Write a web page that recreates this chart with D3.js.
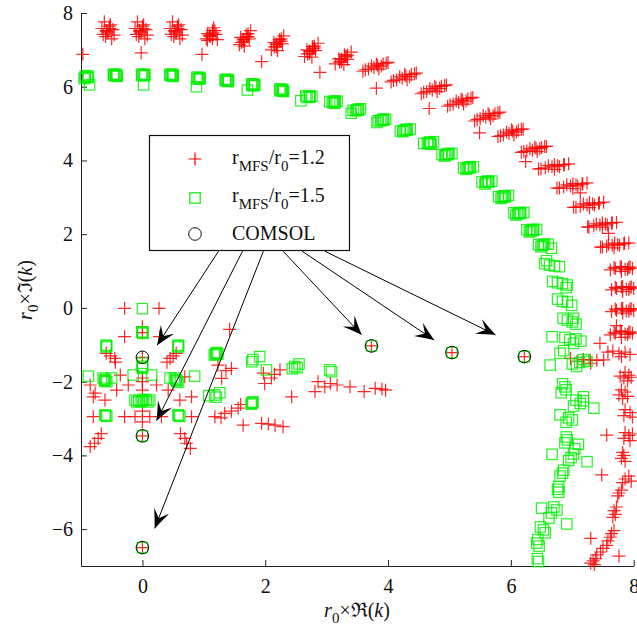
<!DOCTYPE html>
<html>
<head>
<meta charset="utf-8">
<script src="https://cdn.jsdelivr.net/npm/d3@7"></script>
<style>
  body { margin: 0; background: #fff; }
  text { font-family: "Liberation Serif", "Times New Roman", "DejaVu Serif", serif; fill: #111; }
</style>
</head>
<body>
<script>
//tick values
const xTicks = [0, 2, 4, 6, 8]
const yTicks = [-6, -4, -2, 0, 2, 4, 6, 8]

//legend labels
const legendLabels = ['1.2', '1.5', 'COMSOL']

//r_MFS/r0 = 1.2, outer arc (cluster by cluster)
const mfs12Arc = [
  [-0.62,7.76],[-0.52,7.68],[-0.66,7.58],[-0.48,7.55],[-0.56,7.46],[-0.60,7.36],[-0.50,7.30],
  [-0.54,7.64],[-0.58,7.50],[-0.64,7.42],[-0.46,7.40],[-0.53,7.58],[-0.59,7.52],
  [-0.08,7.76],[0.02,7.68],[-0.12,7.58],[0.06,7.55],[-0.02,7.46],[-0.06,7.36],[0.04,7.30],
  [0.00,7.64],[-0.04,7.50],[-0.10,7.42],[0.08,7.40],[0.01,7.58],[-0.05,7.52],
  [0.49,7.76],[0.59,7.68],[0.45,7.58],[0.63,7.55],[0.55,7.46],[0.51,7.36],[0.61,7.30],
  [0.57,7.64],[0.53,7.50],[0.47,7.42],[0.65,7.40],[0.58,7.58],[0.52,7.52],
  [1.16,7.60],[1.18,7.52],[1.06,7.44],[1.20,7.42],[1.10,7.36],[1.06,7.26],[1.14,7.30],
  [1.14,7.52],[1.10,7.38],[1.04,7.30],[1.22,7.28],[1.15,7.46],[1.09,7.40],
  [1.76,7.52],[1.72,7.44],[1.60,7.34],[1.74,7.30],[1.64,7.22],[1.58,7.14],[1.66,7.10],
  [1.69,7.41],[1.65,7.27],[1.61,7.20],[1.72,7.36],[1.70,7.35],[1.64,7.29],
  [2.30,7.38],[2.26,7.30],[2.14,7.20],[2.28,7.16],[2.18,7.08],[2.10,7.00],[2.20,6.98],
  [2.23,7.28],[2.19,7.14],[2.15,7.08],[2.26,7.24],[2.24,7.22],[2.18,7.16],
  [2.86,7.18],[2.80,7.10],[2.68,7.00],[2.82,6.98],[2.72,6.90],[2.64,6.82],[2.76,6.80],
  [2.77,7.09],[2.73,6.95],[2.69,6.89],[2.80,7.05],[2.78,7.03],[2.72,6.97],
  [3.40,6.94],[3.34,6.86],[3.20,6.76],[3.34,6.74],[3.24,6.68],[3.14,6.62],[3.28,6.60],
  [3.29,6.87],[3.25,6.73],[3.21,6.67],[3.32,6.83],[3.30,6.81],[3.24,6.75],
  [3.59,6.42],[3.68,6.48],[3.77,6.52],[3.83,6.58],[3.92,6.62],[4.00,6.66],[3.85,6.48],
  [3.63,6.46],[3.97,6.64],[3.73,6.56],[3.89,6.56],[3.81,6.62],
  [4.05,6.13],[4.14,6.19],[4.23,6.23],[4.29,6.29],[4.38,6.33],[4.46,6.37],[4.31,6.19],
  [4.09,6.17],[4.43,6.35],[4.19,6.27],[4.35,6.27],[4.27,6.33],
  [4.54,5.81],[4.63,5.87],[4.72,5.91],[4.78,5.97],[4.87,6.01],[4.95,6.05],[4.80,5.87],
  [4.58,5.85],[4.92,6.03],[4.68,5.95],[4.84,5.95],[4.76,6.01],
  [4.97,5.47],[5.06,5.53],[5.15,5.57],[5.21,5.63],[5.30,5.67],[5.38,5.71],[5.23,5.53],
  [5.01,5.51],[5.35,5.69],[5.11,5.61],[5.27,5.61],[5.19,5.67],
  [5.41,5.07],[5.50,5.13],[5.59,5.17],[5.65,5.23],[5.74,5.27],[5.82,5.31],[5.67,5.13],
  [5.45,5.11],[5.79,5.29],[5.55,5.21],[5.71,5.21],[5.63,5.27],
  [5.79,4.65],[5.88,4.69],[5.97,4.73],[6.03,4.79],[6.12,4.82],[6.20,4.85],[6.05,4.69],
  [5.83,4.67],[6.17,4.85],[5.93,4.77],[6.09,4.77],[6.01,4.83],
  [6.17,4.22],[6.26,4.26],[6.35,4.28],[6.41,4.33],[6.50,4.35],[6.58,4.38],[6.43,4.24],
  [6.21,4.24],[6.55,4.38],[6.31,4.32],[6.47,4.32],[6.39,4.36],
  [6.45,3.77],[6.56,3.80],[6.67,3.83],[6.76,3.86],[6.86,3.88],[6.94,3.91],[6.71,3.76],
  [6.49,3.77],[6.87,3.89],[6.61,3.86],[6.79,3.83],[6.71,3.89],
  [6.75,3.25],[6.86,3.28],[6.97,3.31],[7.06,3.34],[7.16,3.36],[7.24,3.39],[7.01,3.24],
  [6.79,3.25],[7.17,3.37],[6.91,3.34],[7.09,3.31],[7.01,3.37],
  [7.02,2.73],[7.13,2.76],[7.24,2.79],[7.33,2.82],[7.43,2.84],[7.51,2.87],[7.28,2.72],
  [7.06,2.73],[7.44,2.85],[7.18,2.82],[7.36,2.79],[7.28,2.85],
  [7.25,2.20],[7.35,2.23],[7.45,2.25],[7.54,2.28],[7.64,2.30],[7.72,2.32],[7.49,2.19],
  [7.27,2.19],[7.65,2.31],[7.39,2.28],[7.57,2.25],[7.49,2.31],
  [7.46,1.65],[7.56,1.68],[7.65,1.70],[7.74,1.72],[7.84,1.74],[7.92,1.76],[7.68,1.63],
  [7.49,1.65],[7.85,1.76],[7.59,1.73],[7.77,1.70],[7.69,1.76],
  [7.62,1.03],[7.70,1.07],[7.78,1.11],[7.86,1.05],[7.92,1.10],[7.98,1.07],[7.80,0.99],
  [7.68,1.10],[7.90,1.04],[7.80,1.12],[7.94,1.11],
  [7.64,0.49],[7.72,0.53],[7.80,0.57],[7.88,0.51],[7.94,0.56],[8.00,0.53],[7.82,0.45],
  [7.70,0.56],[7.92,0.50],[7.82,0.58],[7.96,0.57],
  [7.64,-0.10],[7.72,-0.06],[7.80,-0.02],[7.88,-0.08],[7.94,-0.03],[8.00,-0.06],[7.82,-0.14],
  [7.70,-0.03],[7.92,-0.09],[7.82,-0.01],[7.96,-0.02],
  [7.62,-0.73],[7.70,-0.69],[7.78,-0.62],[7.86,-0.71],[7.92,-0.66],[7.98,-0.69],[7.80,-0.80],[7.72,-0.48],
  [7.68,-0.66],[7.90,-0.72],[7.80,-0.64],[7.94,-0.65],
  [7.58,-1.20],[7.66,-1.17],[7.76,-1.24],[7.86,-1.20],[7.94,-1.26],[7.80,-1.32],
  [7.86,-1.75],[7.92,-1.82],[7.84,-1.90],[7.96,-1.88],[7.90,-1.98],[7.78,-1.85],
  [7.80,-2.22],[7.86,-2.28],[7.76,-2.36],[7.90,-2.40],[7.82,-2.46],
  [7.86,-2.76],[7.94,-2.84],[7.84,-2.92],[7.98,-2.96],
  [7.86,-3.38],[7.92,-3.46],[7.84,-3.54],[7.94,-3.60],[7.98,-3.42],
  [7.82,-3.92],[7.84,-4.00],[7.80,-4.08],[7.86,-4.16],
  [7.92,-4.56],[7.86,-4.64],[7.96,-4.70],[7.82,-4.74],
  [7.80,-4.94],[7.76,-5.02],[7.74,-5.10],
  [7.72,-5.40],[7.68,-5.50],[7.70,-5.60],[7.66,-5.68],
  [7.68,-6.04],[7.64,-6.12],[7.62,-6.22],[7.58,-6.32],
  [7.56,-6.44],[7.50,-6.52],[7.46,-6.62],[7.40,-6.70],
  [7.38,-6.80],[7.34,-6.86],[7.30,-6.92],[7.36,-6.96],
  //stray points along the arc
  [-0.97,6.88],[-0.02,6.92],[0.97,6.88],[1.94,6.68],[2.89,6.39],[3.81,5.96],[4.67,5.41],
  [5.49,4.75],[6.24,3.97],[7.13,3.12],[7.59,2.02],[7.45,-0.96],[7.51,-1.41],[7.29,-1.41],
  [7.56,-3.45],[7.48,-4.53],[7.30,-6.25],[7.76,-6.73],
  [6.97,-1.37],[7.08,-1.45],[7.18,-1.40],[7.30,-1.50],[7.40,-1.42]
]

//r_MFS/r0 = 1.2, inner points
const mfs12Inner = [
  [-0.29,-0.01],[0.27,-0.01],[0,-0.51],[0,-0.67],[-0.29,-0.78],[0.28,-0.78],
  [-0.59,-1.23],[-0.45,-1.37],[-0.52,-1.30],[0.45,-1.37],[0.55,-1.23],[0.50,-1.30],
  [-0.44,-1.47],[0.40,-1.47],[-0.36,-1.82],[0.69,-1.87],
  [0,-1.34],[0,-1.90],[0,-2.00],[0,-2.23],
  [-0.85,-2.09],[-0.77,-2.31],[-0.80,-2.41],[-0.61,-2.50],[-0.42,-2.23],[-0.23,-2.09],
  [0.23,-2.09],[0.42,-2.23],[0.61,-2.50],[0.80,-2.41],
  [-0.80,-2.95],[-0.29,-2.95],[-0.12,-2.95],[0.12,-2.95],[0.31,-2.95],[0.80,-2.95],[0,-3.09],[0,-2.80],
  [0,-3.47],[-0.72,-3.54],[-0.78,-3.67],[-0.67,-3.41],[-0.85,-3.76],
  [0.69,-3.54],[0.72,-3.67],[0.62,-3.41],[0.78,-3.81],
  [0,-6.50],
  [1.42,-0.58],[1.23,-1.55],[1.45,-1.64],[1.29,-1.91],[1.36,-1.70],
  [1.97,-1.77],[2.10,-1.90],[2.24,-1.68],[1.99,-2.05],[2.15,-1.80],[2.43,-2.41],
  [2.86,-2.00],[2.97,-2.14],[2.81,-2.27],[3.06,-2.05],[3.17,-2.09],[3.38,-2.14],
  [3.61,-2.27],[3.79,-2.18],[3.90,-2.20],[3.96,-2.23],
  [1.18,-2.95],[1.28,-2.98],[1.34,-2.86],[1.45,-2.80],[1.56,-2.72],[1.60,-2.62],
  [1.64,-3.18],[1.94,-3.13],[2.05,-3.15],[2.16,-3.18],[2.29,-3.22],
  [3.73,-1.03],[5.04,-1.21],[6.22,-1.32]
]

//r_MFS/r0 = 1.5, outer arc
const mfs15Arc = [
  [-0.93,6.30],[-0.89,6.25],[-0.95,6.22],[-0.86,6.05],[-0.89,6.29],[-0.93,6.25],[-0.88,6.26],
  [-0.47,6.34],[-0.43,6.30],[-0.45,6.32],[-0.41,6.28],[-0.43,6.34],[-0.47,6.30],[-0.42,6.31],
  [-0.01,6.34],[0.03,6.30],[0.01,6.32],[0.02,6.05],[0.03,6.34],[-0.01,6.30],[0.04,6.31],
  [0.45,6.34],[0.49,6.30],[0.47,6.32],[0.50,6.28],[0.49,6.34],[0.45,6.30],[0.50,6.31],
  [0.89,6.26],[0.93,6.21],[0.91,6.23],[0.88,6.00],[0.93,6.25],[0.89,6.21],[0.94,6.22],
  [1.35,6.20],[1.39,6.16],[1.37,6.18],[1.40,6.14],[1.39,6.20],[1.35,6.16],[1.40,6.17],
  [1.78,6.08],[1.82,6.03],[1.80,6.05],[1.71,5.91],[1.82,6.07],[1.78,6.03],[1.83,6.04],
  [2.24,5.94],[2.28,5.89],[2.26,5.91],[2.30,5.87],[2.28,5.93],[2.24,5.89],[2.29,5.90],
  [2.66,5.75],[2.72,5.72],[2.76,5.74],[2.58,5.62],[2.72,5.75],[2.68,5.71],[2.73,5.72],
  [3.05,5.60],[3.11,5.59],[3.17,5.61],[3.13,5.55],[3.13,5.61],[3.09,5.57],[3.14,5.58],
  [3.43,5.36],[3.49,5.38],[3.55,5.40],[3.40,5.28],[3.51,5.39],[3.47,5.35],[3.52,5.36],
  [3.84,5.08],[3.90,5.10],[3.96,5.12],[3.82,5.03],[3.92,5.12],[3.88,5.08],[3.93,5.09],
  [4.20,4.80],[4.28,4.83],[4.36,4.85],[4.24,4.78],[4.30,4.85],[4.26,4.81],[4.31,4.82],
  [4.58,4.46],[4.66,4.48],[4.74,4.51],[4.70,4.44],[4.68,4.50],[4.64,4.46],[4.69,4.47],
  [4.88,4.16],[4.96,4.17],[5.04,4.19],[4.92,4.12],[4.98,4.19],[4.94,4.15],[4.99,4.16],
  [5.23,3.80],[5.31,3.81],[5.39,3.83],[5.27,3.76],[5.33,3.83],[5.29,3.79],[5.34,3.80],
  [5.53,3.42],[5.61,3.43],[5.69,3.44],[5.58,3.36],[5.63,3.44],[5.59,3.40],[5.64,3.41],
  [5.80,3.02],[5.88,3.03],[5.96,3.05],[5.84,2.97],[5.90,3.04],[5.86,3.00],[5.91,3.01],
  [6.05,2.58],[6.13,2.57],[6.21,2.59],[6.08,2.52],[6.15,2.59],[6.11,2.55],[6.16,2.56],
  [6.26,2.12],[6.34,2.11],[6.42,2.13],[6.30,2.06],[6.36,2.13],[6.32,2.09],[6.37,2.10],
  [6.45,1.72],[6.53,1.71],[6.61,1.73],[6.49,1.66],[6.66,1.62],[6.55,1.73],[6.51,1.69],
  [6.55,1.20],[6.63,1.16],[6.71,1.14],[6.79,1.12],[6.58,1.28],
  [6.68,0.72],[6.76,0.68],[6.84,0.66],[6.92,0.62],[6.90,0.55],
  [6.76,0.24],[6.84,0.18],[6.92,0.16],[6.99,0.07],
  [6.85,-0.28],[6.92,-0.33],[7.00,-0.38],[7.06,-0.44],[7.02,-0.28],
  [6.67,-0.78],[6.88,-0.80],[6.96,-0.86],[7.06,-0.84],[7.14,-0.90],[7.02,-0.96],
  [6.80,-1.23],[6.86,-1.16],[7.07,-1.59],[7.12,-1.48],[7.00,-1.52],[7.18,-1.40],[7.24,-1.45],[6.64,-1.55],
  [6.84,-2.06],[6.88,-2.14],[6.90,-2.22],[6.82,-2.30],[7.18,-2.41],
  [7.06,-2.50],[7.13,-2.59],[7.18,-2.52],[7.02,-2.66],[7.35,-2.72],
  [6.94,-2.98],[6.90,-3.10],[6.80,-2.90],[7.00,-3.04],
  [6.90,-3.50],[6.92,-3.58],[6.88,-3.66],[7.04,-3.82],[7.10,-3.70],
  [7.02,-3.96],[6.98,-4.06],[6.94,-4.14],[7.24,-4.17],[6.67,-3.97],
  [6.86,-4.40],[6.84,-4.48],[6.80,-4.56],
  [6.78,-4.85],[6.76,-4.92],[6.78,-5.00],
  [6.75,-5.48],[6.70,-5.40],[6.66,-5.56],[6.91,-5.86],[6.50,-5.43],[6.62,-5.70],
  [6.53,-6.02],[6.48,-5.94],[6.56,-6.10],
  [6.42,-6.38],[6.44,-6.28],[6.46,-6.46],
  [6.45,-6.88],[6.43,-6.80]
]

//r_MFS/r0 = 1.5, inner points
const mfs15Inner = [
  [0,-0.02],[0,-0.67],[0.01,-0.69],[-0.01,-0.65],
  [-0.59,-1.01],[-0.59,-1.06],[-0.58,-1.03],[0.58,-1.01],[0.58,-1.06],[0.59,-1.03],
  [0,-1.50],[0,-1.58],[0,-1.64],[0,-1.61],
  [-0.88,-1.85],[-0.61,-1.96],[-0.64,-1.90],[-0.58,-2.00],[-0.50,-1.90],[-0.62,-1.98],[-0.60,-1.94],
  [-0.15,-1.82],[0.15,-1.82],[0.55,-1.96],[0.52,-1.90],[0.58,-2.02],[0.85,-1.85],[0.45,-1.90],
  [0.56,-1.98],[0.54,-1.94],
  [-0.12,-2.50],[-0.06,-2.52],[0,-2.52],[0.06,-2.50],[0.12,-2.50],[-0.09,-2.55],[0.09,-2.55],
  [0.02,-2.48],[-0.02,-2.54],
  [-0.61,-2.90],[-0.58,-2.94],[-0.60,-2.92],[0.58,-2.90],[0.61,-2.94],[0.59,-2.92],
  [0,-3.47],[0,-6.50],
  [1.20,-1.23],[1.17,-1.28],[1.23,-1.25],[1.19,-1.25],[1.21,-1.21],
  [1.78,-1.46],[1.91,-1.32],[1.80,-1.40],[2.02,-1.68],
  [2.48,-1.59],[2.44,-1.65],[2.55,-1.52],[2.52,-1.62],[3.08,-1.73],[3.05,-1.68],
  [1.18,-2.36],[1.08,-2.38],[1.26,-2.30],[1.20,-2.42],
  [1.78,-2.59],[1.80,-2.55],[1.79,-2.57],[1.77,-2.61],
  [3.73,-1.03],[5.04,-1.21],[6.22,-1.32]
]

//COMSOL reference eigenvalues
const comsol = [[0,-1.34],[0,-3.47],[0,-6.50],[3.73,-1.03],[5.04,-1.21],[6.22,-1.32]]

//annotation arrows, from the legend to the COMSOL points (data units)
const arrowFrom = [[1.24,1.54],[1.63,1.54],[1.97,1.54],[2.29,1.54],[2.60,1.54],[2.97,1.54]]
const arrowTo = [[0.24,-1.01],[0.23,-3.06],[0.20,-5.98],[3.57,-0.73],[4.75,-0.87],[5.75,-0.73]]

const width = 637
const height = 629
const margin = { top: 13, right: 3.3, bottom: 63, left: 81 }

const red = '#ff0000'
const green = '#00f000'

const svg = d3.select('body').append('svg')
  .attr('width', width)
  .attr('height', height)

//=================SCALES===================
const x = d3.scaleLinear().domain([-1, 8]).range([margin.left, width - margin.right])
const y = d3.scaleLinear().domain([-7, 8]).range([height - margin.bottom, margin.top])

//================= AXIS =====================
const xAxis = svg.append('g')
  .attr('transform', `translate(0,${height - margin.bottom})`)
  .call(d3.axisBottom(x).tickValues(xTicks).tickSize(-6).tickSizeOuter(0).tickPadding(13))
const yAxis = svg.append('g')
  .attr('transform', `translate(${margin.left},0)`)
  .call(d3.axisLeft(y).tickValues(yTicks).tickSize(-6).tickSizeOuter(0).tickPadding(8))

;[xAxis, yAxis].forEach(a => {
  a.selectAll('path, line').attr('stroke', '#222')
  a.selectAll('text').style('font-size', '20px').attr('fill', '#111')
})

//=================== MARKERS ==================
const plus = 'M-6.5,0H6.5M0,-6.5V6.5'
const plotArea = svg.append('g')

const drawPlus = data => plotArea.append('g').selectAll('path')
  .data(data).enter().append('path')
  .attr('d', plus)
  .attr('transform', d => `translate(${x(d[0])},${y(d[1])})`)
  .attr('fill', 'none')
  .attr('stroke', red)
  .attr('stroke-opacity', 0.85)
  .attr('stroke-width', 1.2)

const drawSquare = data => plotArea.append('g').selectAll('rect')
  .data(data).enter().append('rect')
  .attr('x', d => x(d[0]) - 5.2)
  .attr('y', d => y(d[1]) - 5.2)
  .attr('width', 10.4)
  .attr('height', 10.4)
  .attr('fill', 'none')
  .attr('stroke', green)
  .attr('stroke-opacity', 0.85)
  .attr('stroke-width', 1.2)

drawPlus(mfs12Arc)
drawPlus(mfs12Inner)
drawSquare(mfs15Arc)
drawSquare(mfs15Inner)

plotArea.append('g').selectAll('circle')
  .data(comsol).enter().append('circle')
  .attr('cx', d => x(d[0]))
  .attr('cy', d => y(d[1]))
  .attr('r', 6.3)
  .attr('fill', 'none')
  .attr('stroke', '#111')
  .attr('stroke-width', 1)

//=================== ARROWS ==================
const arrows = svg.append('g')
arrowFrom.forEach((p, i) => {
  const x0 = x(p[0]), y0 = y(p[1])
  const x1 = x(arrowTo[i][0]), y1 = y(arrowTo[i][1])
  const ang = Math.atan2(y1 - y0, x1 - x0) * 180 / Math.PI
  arrows.append('line')
    .attr('x1', x0).attr('y1', y0)
    .attr('x2', x1).attr('y2', y1)
    .attr('stroke', '#000')
    .attr('stroke-width', 1)
  //curved "vback" head
  arrows.append('path')
    .attr('d', 'M0,0Q-9,3.5-19,8Q-13,2-11,0Q-13,-2-19,-8Q-9,-3.5 0,0Z')
    .attr('transform', `translate(${x1},${y1}) rotate(${ang})`)
    .attr('fill', '#000')
})

//=================== LEGEND ==================
const legend = svg.append('g')
legend.append('rect')
  .attr('x', 149.5).attr('y', 135.5)
  .attr('width', 200).attr('height', 115)
  .attr('fill', '#fff')
  .attr('stroke', '#111')
  .attr('stroke-width', 1.2)

legend.append('path')
  .attr('d', plus)
  .attr('transform', 'translate(195,159)')
  .attr('stroke', red).attr('stroke-width', 1.2)
legend.append('rect')
  .attr('x', 189.8).attr('y', 192.8).attr('width', 10.4).attr('height', 10.4)
  .attr('fill', 'none').attr('stroke', green).attr('stroke-width', 1.2)
legend.append('circle')
  .attr('cx', 195).attr('cy', 234).attr('r', 6.3)
  .attr('fill', 'none').attr('stroke', '#111')

const ratioLabel = (yPos, val) => {
  const t = legend.append('text').attr('x', 232).attr('y', yPos).style('font-size', '20px')
  t.append('tspan').text('r')
  t.append('tspan').attr('dy', 7).style('font-size', '15px').text('MFS')
  t.append('tspan').attr('dy', -7).text('/r')
  t.append('tspan').attr('dy', 7).style('font-size', '15px').text('0')
  t.append('tspan').attr('dy', -7).text('=' + val)
}
ratioLabel(164, legendLabels[0])
ratioLabel(202, legendLabels[1])
legend.append('text').attr('x', 232).attr('y', 240).style('font-size', '20px').text(legendLabels[2])

//=================== AXIS LABELS ==================
const axisLabel = (g, sym) => {
  const t = g.append('text').attr('text-anchor', 'middle').style('font-size', '20px')
  t.append('tspan').style('font-style', 'italic').text('r')
  t.append('tspan').attr('dy', 6).style('font-size', '15px').text('0')
  t.append('tspan').attr('dy', -6).text('\u00d7' + sym + '(')
  t.append('tspan').style('font-style', 'italic').text('k')
  t.append('tspan').text(')')
}
axisLabel(svg.append('g').attr('transform', `translate(357,617)`), '\u211c')
axisLabel(svg.append('g').attr('transform', `translate(32,290) rotate(-90)`), '\u2111')
</script>
</body>
</html>
